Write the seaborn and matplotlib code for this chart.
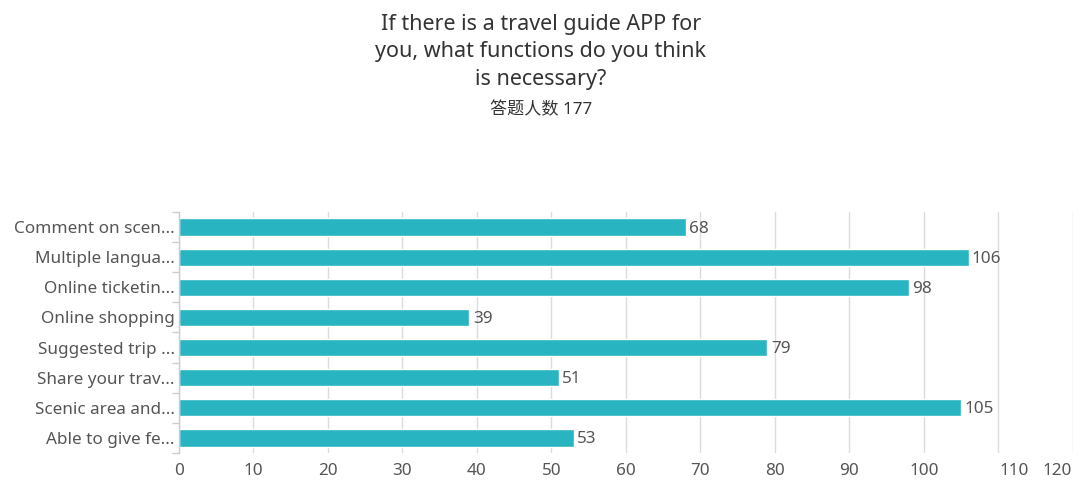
import matplotlib
matplotlib.use("Agg")
import matplotlib.pyplot as plt
import matplotlib.transforms as mtransforms
import seaborn as sns
import pandas as pd
import numpy as np

# Survey answers (multiple choice), respondents = 177
options = [
    "Comment on scen...",
    "Multiple langua...",
    "Online ticketin...",
    "Online shopping",
    "Suggested trip ...",
    "Share your trav...",
    "Scenic area and...",
    "Able to give fe...",
]
counts = [68, 106, 98, 39, 79, 51, 105, 53]
x_ticks = [0, 10, 20, 30, 40, 50, 60, 70, 80, 90, 100, 110, 120]

title_text = "If there is a travel guide APP for\nyou, what functions do you think\nis necessary?"
subtitle_text = "答题人数 177"

sns.set_theme(style="white")
plt.rcParams["font.family"] = ["Noto Sans", "Noto Sans CJK SC", "DejaVu Sans"]

bar_color = "#29b4c2"
text_color = "#555555"
grid_color = "#dcdcdc"

df = pd.DataFrame({"option": options, "count": counts})

fig = plt.figure(figsize=(10.82, 4.83), dpi=100)
ax = fig.add_axes([0.1654, 0.0621, 0.8262, 0.4990])

sns.barplot(data=df, x="count", y="option", orient="h", color=bar_color,
            width=0.57, saturation=1, ax=ax)

ax.set_xlim(0, 120)
ax.set_ylim(len(options) - 0.5, -0.5)
ax.set_xticks(x_ticks)
ax.set_xticklabels([str(t) for t in x_ticks])
ax.set_xlabel("")
ax.set_ylabel("")

# vertical grid
ax.grid(axis="x", color=grid_color, linewidth=1)
ax.set_axisbelow(True)

for side in ["top", "right", "bottom"]:
    ax.spines[side].set_visible(False)
ax.spines["left"].set_color("#cccccc")
ax.spines["left"].set_linewidth(1)

# category ticks at the boundaries between bars
ax.set_yticks(np.arange(len(options)))
ax.set_yticks(np.arange(len(options) + 1) - 0.5, minor=True)
ax.tick_params(axis="y", which="major", length=0, pad=3,
               labelsize=12.3, labelcolor=text_color)
ax.tick_params(axis="y", which="minor", length=5, width=1, color="#cccccc",
               direction="out", left=True)
ax.tick_params(axis="x", length=0, pad=7, labelsize=12.3, labelcolor=text_color)

# crowd-avoiding shift of the last two tick labels
labels = ax.get_xticklabels()
shift_px = {110: 16, 120: -16}
for lab, t in zip(labels, x_ticks):
    if t in shift_px:
        off = mtransforms.ScaledTranslation(shift_px[t] / 100, 0, fig.dpi_scale_trans)
        lab.set_transform(lab.get_transform() + off)

# value labels
for i, v in enumerate(counts):
    ax.text(v + 0.45, i + 0.05, str(v), va="center", ha="left",
            fontsize=12.3, color=text_color)

fig.text(0.5, 0.972, title_text, ha="center", va="top", fontsize=15.5,
         color="#333333", linespacing=1.42)
fig.text(0.5, 0.773, subtitle_text, ha="center", va="center", fontsize=12.3,
         color="#333333")

fig.savefig("out.png", dpi=100)
